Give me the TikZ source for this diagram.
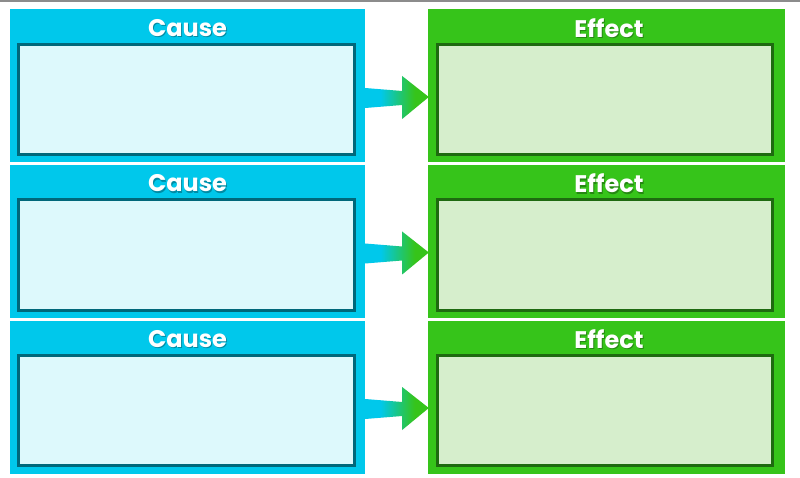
\documentclass[tikz,border=0pt]{standalone}
\usepackage{fontspec}
\setmainfont{Poppins}
\usetikzlibrary{calc}
\definecolor{cy}{HTML}{00C8EB}
\definecolor{cyin}{HTML}{DDF9FC}
\definecolor{cyline}{HTML}{00687A}
\definecolor{gr}{HTML}{36C41A}
\definecolor{grin}{HTML}{D6EECC}
\definecolor{grline}{HTML}{1E6A10}
\pgfdeclarehorizontalshading{arrowshade}{100bp}{color(0bp)=(cy); color(37bp)=(cy); color(64bp)=(gr); color(100bp)=(gr)}
\tikzset{
  causebox/.style={fill=cy, draw=none, minimum width=355pt, minimum height=153pt, inner sep=0pt},
  effectbox/.style={fill=gr, draw=none, minimum width=357pt, minimum height=153pt, inner sep=0pt},
  causein/.style={fill=cyin, draw=cyline, line width=3pt, minimum width=336pt, minimum height=110pt, inner sep=0pt},
  effectin/.style={fill=grin, draw=grline, line width=3pt, minimum width=335pt, minimum height=110pt, inner sep=0pt},
  title/.style={text=white, font=\bfseries\fontsize{24}{27}\selectfont, inner sep=0pt},
  shadowtxt/.style={text=black, opacity=0.3, font=\bfseries\fontsize{24}{27}\selectfont, inner sep=0pt},
}
\begin{document}
\begin{tikzpicture}[x=1pt,y=-1pt]
\useasboundingbox (0,0) rectangle (800,478);
\fill[white] (0,0) rectangle (800,478);
\fill[gray!90] (0,0) rectangle (800,2);
\foreach \i/\dy in {1/0, 2/155.5, 3/311} {
  \node[causebox] (cause\i) at (187.5, 86+\dy) {};
  \node[effectbox] (effect\i) at (606.5, 86+\dy) {};
  \node[causein] (causein\i) at (186.5, 99.5+\dy) {};
  \node[effectin] (effectin\i) at (605, 99.5+\dy) {};
  \node[shadowtxt] at (188.5, 29.5+\dy) {Cause};
  \node[title] (causet\i) at (187.5, 28+\dy) {Cause};
  \node[shadowtxt] at (610, 29.5+\dy) {Effect};
  \node[title] (effectt\i) at (609, 28+\dy) {Effect};
  \shade[shading=arrowshade]
    ($(cause\i.east)+(0,2)$) -- ($(cause\i.east)!0.59!(effect\i.west)+(0,5)$)
    -- ($(cause\i.east)!0.59!(effect\i.west)+(0,-10)$)
    -- ($(effect\i.west)+(1,11)$)
    -- ($(cause\i.east)!0.59!(effect\i.west)+(0,33)$)
    -- ($(cause\i.east)!0.59!(effect\i.west)+(0,19)$)
    -- ($(cause\i.east)+(0,22)$) -- cycle;
}
\end{tikzpicture}
\end{document}
